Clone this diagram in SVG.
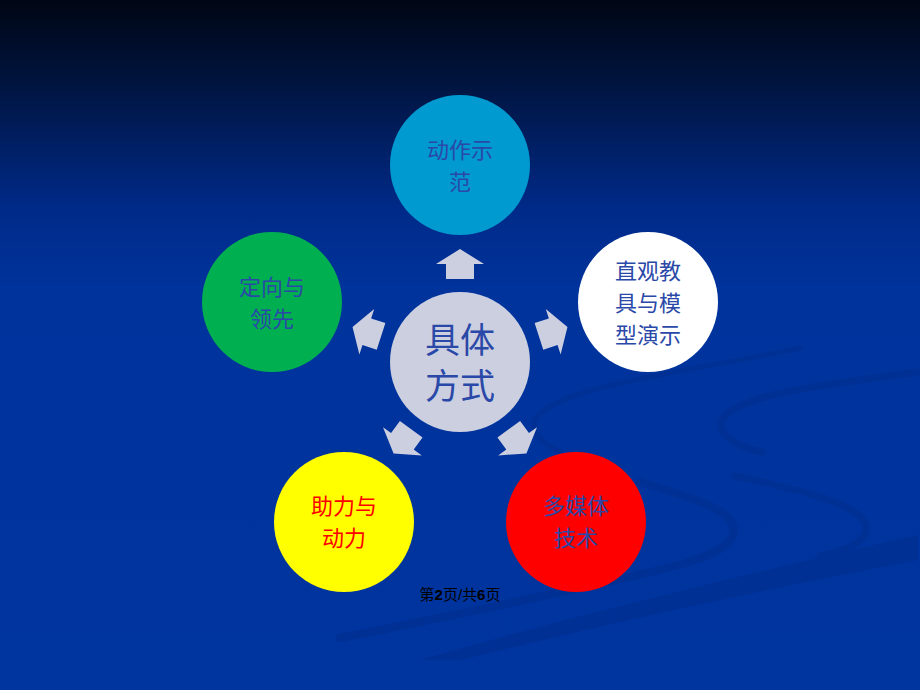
<svg xmlns="http://www.w3.org/2000/svg" width="920" height="690" viewBox="0 0 920 690">
<defs>
<linearGradient id="bg" x1="0" y1="0" x2="0" y2="1">
<stop offset="0" stop-color="#000614"/>
<stop offset="0.12" stop-color="#00143f"/>
<stop offset="0.3" stop-color="#002a88"/>
<stop offset="0.42" stop-color="#00339c"/>
<stop offset="1" stop-color="#00349e"/>
</linearGradient>
<path id="arr" d="M446,279 L446,264 L436,264 L460,249 L484,264 L474,264 L474,279 Z"/>
</defs>
<style>
.sw{fill:none;stroke:#003094;stroke-linecap:round}
.lbl{font-family:"Noto Sans CJK SC","Liberation Sans",sans-serif;font-size:22px;text-anchor:middle;fill:#2a48a8}
.arrow{fill:#cccfe0}
</style>
<rect width="920" height="690" fill="url(#bg)"/>
<g id="swirls">
<path class="sw" stroke-width="5" d="M800,348 C700,370 560,385 536,418 C528,432 545,445 560,452"/>
<path class="sw" stroke-width="8" d="M640,482 C700,500 740,512 733,535 C725,560 650,572 560,592 C500,606 420,622 340,638"/>
<path class="sw" stroke-width="7" d="M918,372 C820,385 735,395 722,420 C716,435 740,448 762,452"/>
<path class="sw" stroke-width="7" d="M735,476 C800,490 866,505 866,528 C866,545 840,552 820,556"/>
<path fill="#003094" d="M918,535 L918,560 C760,590 600,625 460,660 L420,660 C560,620 700,585 918,535 Z"/>
</g>
<g id="connectors">
<use href="#arr" class="arrow"/>
<use href="#arr" class="arrow" transform="rotate(72 460 362)"/>
<use href="#arr" class="arrow" transform="rotate(144 460 362)"/>
<use href="#arr" class="arrow" transform="rotate(-144 460 362)"/>
<use href="#arr" class="arrow" transform="rotate(-72 460 362)"/>
</g>
<g id="center">
<circle cx="460" cy="362" r="70" fill="#cccfe0"/>
<text class="lbl" x="460" y="353" style="font-size:35px">具体</text>
<text class="lbl" x="460" y="399" style="font-size:35px">方式</text>
</g>
<g id="node-top">
<circle cx="460" cy="165" r="70" fill="#009ad0"/>
<text class="lbl" x="460" y="158">动作示</text>
<text class="lbl" x="460" y="190">范</text>
</g>
<g id="node-right">
<circle cx="648" cy="302" r="70" fill="#ffffff"/>
<text class="lbl" x="648" y="279">直观教</text>
<text class="lbl" x="648" y="311">具与模</text>
<text class="lbl" x="648" y="343">型演示</text>
</g>
<g id="node-bottom-right">
<circle cx="576" cy="522" r="70" fill="#ff0000"/>
<text class="lbl" x="576" y="514">多媒体</text>
<text class="lbl" x="576" y="546">技术</text>
</g>
<g id="node-bottom-left">
<circle cx="344" cy="522" r="70" fill="#ffff00"/>
<text class="lbl" x="344" y="514" style="fill:#ff0000">助力与</text>
<text class="lbl" x="344" y="546" style="fill:#ff0000">动力</text>
</g>
<g id="node-left">
<circle cx="272" cy="302" r="70" fill="#00b050"/>
<text class="lbl" x="272" y="295">定向与</text>
<text class="lbl" x="272" y="327">领先</text>
</g>
<text x="460" y="600" text-anchor="middle" style="font-family:'Liberation Sans','Noto Sans CJK SC',sans-serif;font-size:15px;fill:#000">第<tspan font-weight="bold">2</tspan>页/共<tspan font-weight="bold">6</tspan>页</text>
</svg>
